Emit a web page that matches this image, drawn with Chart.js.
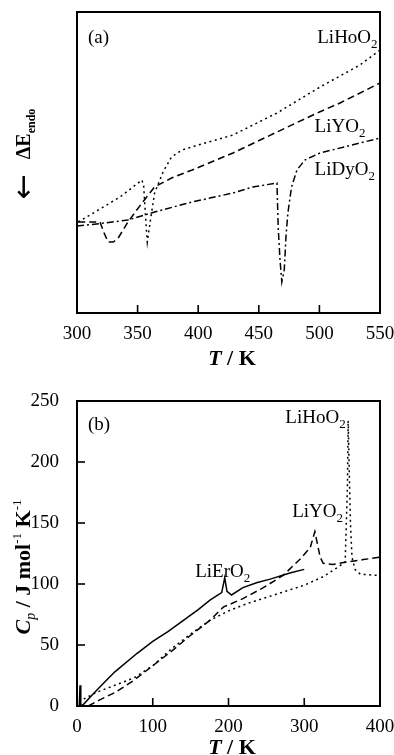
<!DOCTYPE html>
<html>
<head>
<meta charset="utf-8">
<script src="https://cdn.jsdelivr.net/npm/chart.js@4.4.1/dist/chart.umd.min.js"></script>
<style>
  html, body { margin: 0; padding: 0; background: #fff; overflow: hidden; }
  canvas { position: absolute; left: 0; }
  #chartA { top: 0; }
  #chartB { top: 375px; }
</style>
</head>
<body>
<canvas id="chartA" width="394" height="375"></canvas>
<canvas id="chartB" width="394" height="380"></canvas>
<script>
// ---- panel (a): DSC traces, arbitrary units ----
const tempHoA = [301, 319, 335.5, 353.6, 355, 357, 358, 360, 364, 371, 378, 386.6, 400, 428.7, 465, 500.5, 533.5, 550];
const dscHoA  = [91, 104, 116, 133, 127, 88, 71, 88, 120, 141, 156, 163, 168, 178, 200, 226, 248, 263];
const tempYA  = [301, 319, 322, 325.6, 330, 334, 342, 353.6, 364, 378, 395, 428.7, 465, 500, 517, 550];
const dscYA   = [91, 91, 81, 71, 71, 75, 91, 110, 126, 135, 143, 160, 181, 201, 210, 230];
const tempDyA = [300, 323, 342, 364, 395, 428.7, 445, 465, 466, 467.5, 469, 471, 472.5, 474, 477, 481.5, 488, 500.5, 550];
const dscDyA  = [87, 90, 93, 101, 111, 120, 126, 130, 86, 53, 31, 43, 78, 100, 126, 143, 153, 160, 175];

// ---- panel (b): heat capacity, J/(mol K) ----
const tempErB = [3, 4, 5, 8, 20, 34, 50, 79, 100, 120, 140, 160, 176, 191, 195, 198, 204, 219, 237, 255, 281, 300];
const cpErB   = [0, 17, 0, 1, 9, 18, 28, 43, 53, 61, 70, 79, 87, 93, 105, 94, 91, 97, 101, 104, 109, 112];
const tempYB  = [15, 30, 50, 75, 100, 125, 150, 175, 193, 219, 246, 272, 294, 308, 314, 321, 325, 338, 356, 378, 400];
const cpYB    = [0, 5, 11, 21, 33, 45, 58, 70, 81, 88, 97, 107, 120, 130, 143, 122, 117, 116, 118, 120, 122];
const tempHoB = [3, 10, 25, 50, 75, 100, 125, 150, 175, 200, 225, 250, 275, 300, 325, 345, 354, 357, 358, 359.5, 361, 363, 367, 374, 400];
const cpHoB   = [3, 6, 11, 17, 23, 33, 47, 59, 70, 78, 84, 89, 94, 99, 106, 114, 118, 180, 234, 190, 150, 122, 112, 108, 107];

const xTicksA = [300, 350, 400, 450, 500, 550];
const xTicksB = [0, 100, 200, 300, 400];
const yTicksB = [0, 50, 100, 150, 200, 250];

const SERIF = '"Liberation Serif", "Times New Roman", serif';
const DOTTED = [2, 3.5];
const DASHED = [7, 4];
const DASHDOT = [7, 3, 2, 3];

function pts(xs, ys) {
    return xs.map((x, i) => ({ x: x, y: ys[i] }));
}

// draw a run of text pieces with different fonts (sub/superscripts)
function drawRich(ctx, x, y, parts, align) {
    let w = 0;
    parts.forEach(p => { ctx.font = p.font; w += ctx.measureText(p.text).width; });
    let cx = align === 'right' ? x - w : (align === 'center' ? x - w / 2 : x);
    parts.forEach(p => {
        ctx.font = p.font;
        ctx.fillText(p.text, cx, y + (p.dy || 0));
        cx += ctx.measureText(p.text).width;
    });
}

function formula(name, sub) {
    return [{ text: name, font: '19px ' + SERIF }, { text: sub, font: '13px ' + SERIF, dy: 5 }];
}

const axisTitleT = [
    { text: 'T', font: 'bold italic 22px ' + SERIF },
    { text: ' / K', font: 'bold 22px ' + SERIF }
];

// box around the plot, inward tick marks and all the annotation text
function framePlugin(drawText, tickX, tickY) {
    return {
        id: 'frame',
        afterDraw(chart) {
            const ctx = chart.ctx;
            const a = chart.chartArea;
            ctx.save();
            ctx.strokeStyle = '#000';
            ctx.lineWidth = 1.6;
            tickX.forEach(v => {
                const px = chart.scales.x.getPixelForValue(v);
                ctx.beginPath(); ctx.moveTo(px, a.bottom); ctx.lineTo(px, a.bottom - 8); ctx.stroke();
            });
            tickY.forEach(v => {
                const py = chart.scales.y.getPixelForValue(v);
                ctx.beginPath(); ctx.moveTo(a.left, py); ctx.lineTo(a.left + 8, py); ctx.stroke();
            });
            ctx.lineWidth = 2;
            ctx.strokeRect(a.left, a.top, a.right - a.left, a.bottom - a.top);
            ctx.fillStyle = '#000';
            ctx.textAlign = 'left';
            ctx.textBaseline = 'alphabetic';
            drawText(chart, ctx);
            ctx.restore();
        }
    };
}

function baseOptions(xMin, xMax, xStep, yMin, yMax, showY, xHeight, top) {
    return {
        responsive: false,
        animation: false,
        layout: { padding: { top: top, right: 14, left: 0, bottom: 0 } },
        plugins: { legend: { display: false }, tooltip: { enabled: false } },
        elements: {
            point: { radius: 0 },
            line: { borderColor: '#000', borderWidth: 1.5, tension: 0, fill: false }
        },
        scales: {
            x: {
                type: 'linear', min: xMin, max: xMax,
                ticks: { stepSize: xStep, color: '#000', padding: 2, maxRotation: 0, font: { family: SERIF, size: 19 } },
                grid: { display: false },
                border: { display: false },
                afterFit: s => { s.height = xHeight; s.paddingLeft = 0; s.paddingRight = 0; }
            },
            y: {
                type: 'linear', min: yMin, max: yMax,
                ticks: { display: showY, stepSize: 50, color: '#000', padding: 10, font: { family: SERIF, size: 19 } },
                grid: { display: false },
                border: { display: false },
                afterFit: s => { s.width = 77; s.paddingTop = 0; s.paddingBottom = 0; }
            }
        }
    };
}

// ---- chart (a) ----
new Chart(document.getElementById('chartA'), {
    type: 'line',
    data: {
        datasets: [
            { label: 'LiHoO2', data: pts(tempHoA, dscHoA), borderDash: DOTTED },
            { label: 'LiYO2', data: pts(tempYA, dscYA), borderDash: DASHED },
            { label: 'LiDyO2', data: pts(tempDyA, dscDyA), borderDash: DASHDOT }
        ]
    },
    options: baseOptions(300, 550, 50, 0, 301, false, 62, 12),
    plugins: [framePlugin(function (chart, ctx) {
        const x = chart.scales.x, y = chart.scales.y;
        drawRich(ctx, x.getPixelForValue(309), y.getPixelForValue(270), [{ text: '(a)', font: '19px ' + SERIF }], 'left');
        drawRich(ctx, x.getPixelForValue(548), y.getPixelForValue(270), formula('LiHoO', '2'), 'right');
        drawRich(ctx, x.getPixelForValue(496), y.getPixelForValue(181), formula('LiYO', '2'), 'left');
        drawRich(ctx, x.getPixelForValue(496), y.getPixelForValue(138), formula('LiDyO', '2'), 'left');
        drawRich(ctx, 232, 365, axisTitleT, 'center');
        ctx.save();
        ctx.translate(30, 154);
        ctx.rotate(-Math.PI / 2);
        drawRich(ctx, 0, 0, [
            { text: '\u2190', font: '30px "DejaVu Sans", sans-serif', dy: 3 },
            { text: '   ', font: 'bold 20px ' + SERIF },
            { text: '\u0394E', font: 'bold 20px ' + SERIF },
            { text: 'endo', font: 'bold 12px ' + SERIF, dy: 5 }
        ], 'center');
        ctx.restore();
    }, [350, 400, 450, 500], [])]
});

// ---- chart (b) ----
new Chart(document.getElementById('chartB'), {
    type: 'line',
    data: {
        datasets: [
            { label: 'LiErO2', data: pts(tempErB, cpErB) },
            { label: 'LiYO2', data: pts(tempYB, cpYB), borderDash: DASHED },
            { label: 'LiHoO2', data: pts(tempHoB, cpHoB), borderDash: DOTTED }
        ]
    },
    options: baseOptions(0, 400, 100, 0, 250, true, 49, 26),
    plugins: [framePlugin(function (chart, ctx) {
        const x = chart.scales.x, y = chart.scales.y;
        drawRich(ctx, x.getPixelForValue(14.5), y.getPixelForValue(226), [{ text: '(b)', font: '19px ' + SERIF }], 'left');
        drawRich(ctx, x.getPixelForValue(275), y.getPixelForValue(232), formula('LiHoO', '2'), 'left');
        drawRich(ctx, x.getPixelForValue(284), y.getPixelForValue(155), formula('LiYO', '2'), 'left');
        drawRich(ctx, x.getPixelForValue(156), y.getPixelForValue(106), formula('LiErO', '2'), 'left');
        drawRich(ctx, 232, 379, axisTitleT, 'center');
        ctx.save();
        ctx.translate(30, 192);
        ctx.rotate(-Math.PI / 2);
        drawRich(ctx, 0, 0, [
            { text: 'C', font: 'bold italic 22px ' + SERIF },
            { text: 'p', font: 'italic 14px ' + SERIF, dy: 5 },
            { text: ' / J mol', font: 'bold 22px ' + SERIF },
            { text: '-1', font: '13px ' + SERIF, dy: -9 },
            { text: ' K', font: 'bold 22px ' + SERIF },
            { text: '-1', font: '13px ' + SERIF, dy: -9 }
        ], 'center');
        ctx.restore();
    }, [100, 200, 300], [50, 100, 150, 200])]
});
</script>
</body>
</html>
